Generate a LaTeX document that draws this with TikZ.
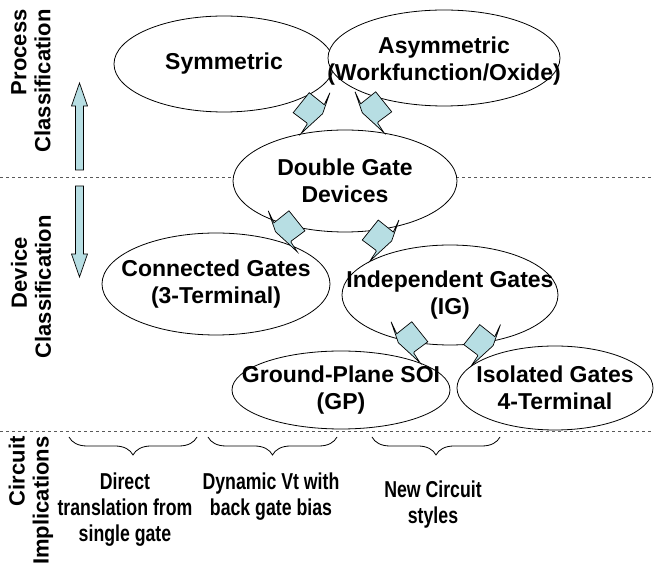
\documentclass[tikz,border=0pt]{standalone}
\usepackage{fontspec}
\setmainfont{Liberation Sans}
\newfontfamily\narrowsans[FakeStretch=0.77]{Liberation Sans}
\usetikzlibrary{shapes.geometric,decorations.pathreplacing}
\definecolor{arrowblue}{HTML}{B7DEE3}
\tikzset{
  blockarrow/.pic={
    \draw[fill=arrowblue,line width=0.7pt] (0,0) -- (-6.3,9.7) -- (-5.7,11) -- (7.7,21) -- (-8.3,41)
      -- (-23.3,29) -- (-29,41) -- (-21.7,20) -- (-9.7,9) -- cycle;
  }
}

\begin{document}
\begin{tikzpicture}[x=1pt,y=1pt,line width=0.8pt,
    every node/.style={font=\fontsize{23}{27}\selectfont\bfseries},
    class/.style={draw,ellipse,fill=white,inner sep=0pt},
    caption/.style={align=center,inner sep=0pt},
    band/.style={rotate=90,anchor=east,align=right,inner sep=0pt,font=\fontsize{22}{24}\selectfont\bfseries},
    implication/.style={anchor=north,align=center,inner sep=0pt,font=\narrowsans\fontsize{23}{26}\selectfont\bfseries},
    divider/.style={black!65,line width=1pt,dash pattern=on 3pt off 3pt},
    updown/.style={draw,fill=arrowblue,line width=0.7pt}]
  \useasboundingbox (0,0) rectangle (654,565);

  \draw[divider] (0,387.5) -- (654,387.5);
  \draw[divider] (0,133) -- (654,133);

  \node[band] (process) at (31,556) {Process\\Classification};
  \node[band] (device) at (31,350) {Device\hspace*{22pt}\\Classification};
  \node[band] (circuit) at (31,129) {Circuit\\Implications};

  \draw[updown] (75.5,395) -- (75.5,459) -- (71.5,459) -- (79.5,482) -- (87.5,459) -- (83.5,459) -- (83.5,395) -- cycle;
  \draw[updown] (75.5,379) -- (75.5,311) -- (71.5,311) -- (79.5,288) -- (87.5,311) -- (83.5,311) -- (83.5,379) -- cycle;

  \node[class,minimum width=220,minimum height=96,label={[caption]center:Symmetric}] (sym) at (224,501) {};
  \node[class,minimum width=232,minimum height=96,label={[caption,yshift=-3pt]center:Asymmetric\\(Workfunction/Oxide)}] (asym) at (444,507) {};
  \node[class,minimum width=224,minimum height=102,label={[caption]center:Double Gate\\Devices}] (dg) at (345,384) {};
  \node[class,minimum width=228,minimum height=102,label={[caption]center:Connected Gates\\(3-Terminal)}] (conn) at (216,281) {};
  \node[class,minimum width=216,minimum height=100,label={[caption]center:Independent Gates\\(IG)}] (indep) at (450,270) {};
  \node[class,minimum width=218,minimum height=78,label={[caption]center:Ground-Plane SOI\\(GP)}] (gp) at (341,175) {};
  \node[class,minimum width=196,minimum height=84,label={[caption]center:Isolated Gates\\4-Terminal}] (iso) at (555,177) {};

  \pic[xscale=-1] at (dg.133) {blockarrow};
  \pic at (dg.51) {blockarrow};
  \pic[yshift=-4pt] at (conn.24) {blockarrow};
  \pic[xscale=-1] at (indep.157) {blockarrow};
  \pic at (gp.19) {blockarrow};
  \pic[xscale=-1] at (iso.165) {blockarrow};

  \draw[decorate,decoration={brace,mirror,amplitude=18}] (69,128) -- (197,128);
  \draw[decorate,decoration={brace,mirror,amplitude=18}] (208,128) -- (337,128);
  \draw[decorate,decoration={brace,mirror,amplitude=18}] (372,128) -- (500,128);
  \node[implication] (direct) at (125,93) {Direct\\translation from\\single gate};
  \node[implication] (dynamic) at (271,93) {Dynamic Vt with\\back gate bias};
  \node[implication] (newstyles) at (433,85) {New Circuit\\styles};
\end{tikzpicture}
\end{document}
